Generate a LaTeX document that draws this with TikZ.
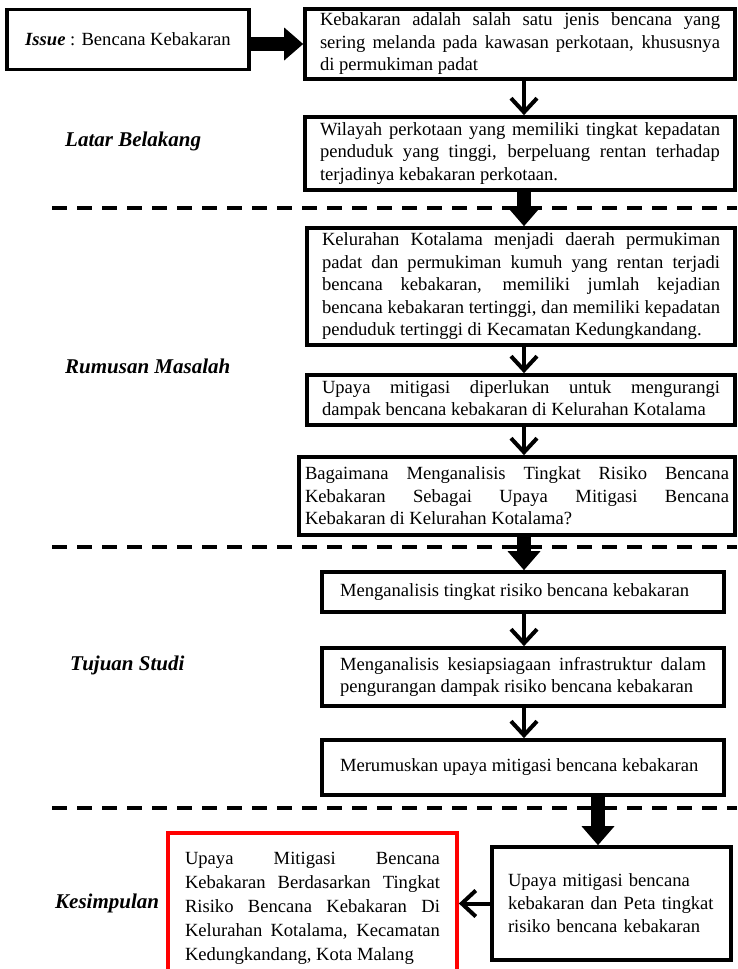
\documentclass[tikz,border=0pt]{standalone}
\usepackage{fontspec}
\setmainfont{Liberation Serif}
\usetikzlibrary{arrows.meta}
\setlength{\parindent}{0pt}
\hyphenpenalty=10000
\exhyphenpenalty=10000
\tolerance=10000
\hbadness=10000
\tikzset{
  box/.style={draw=black, line width=3.7pt, rectangle, inner ysep=0pt,
    font=\fontsize{18.6}{22.5}\selectfont, align=justify},
  lab/.style={font=\fontsize{21}{25}\selectfont\bfseries\itshape, anchor=west, inner sep=0pt},
  arrA/.style={line width=4pt, -{Straight Barb[length=14pt,width=26pt]}},
  arrB/.style={line width=14pt, -{Triangle[length=19pt,width=33pt,line width'=0pt]}},
  sepline/.style={line width=3.5pt, dash pattern=on 15pt off 10pt},
}
\begin{document}
\begin{tikzpicture}[x=1pt,y=-1pt]
\useasboundingbox (0,0) rectangle (737,969);
% separators
\coordinate (d1a) at (52,208); \coordinate (d1b) at (737,208);
\coordinate (d2a) at (52,547); \coordinate (d2b) at (737,547);
\coordinate (d3a) at (52,808); \coordinate (d3b) at (737,808);
\draw[sepline] (d1a) -- (d1b);
\draw[sepline] (d2a) -- (d2b);
\draw[sepline] (d3a) -- (d3b);
% boxes
\node[box, minimum width=242pt, minimum height=60pt, align=center] (iss) at (128,39.5)
  {\textbf{\textit{Issue}} : Bencana Kebakaran};
\node[box, text width=400pt, inner xsep=15pt, minimum height=70pt] (b1) at (520,44)
  {Kebakaran adalah salah satu jenis bencana yang\linebreak sering melanda pada kawasan perkotaan, khususnya\linebreak di permukiman padat};
\node[box, text width=400pt, inner xsep=15pt, minimum height=73pt] (b2) at (520,153.5)
  {Wilayah perkotaan yang memiliki tingkat kepadatan\linebreak penduduk yang tinggi, berpeluang rentan terhadap\linebreak terjadinya kebakaran perkotaan.};
\node[box, text width=398pt, inner xsep=15pt, minimum height=117pt] (b3) at (521,286.5)
  {Kelurahan Kotalama menjadi daerah permukiman\linebreak padat dan permukiman kumuh yang rentan terjadi\linebreak bencana kebakaran, memiliki jumlah kejadian\linebreak bencana kebakaran tertinggi, dan memiliki kepadatan\linebreak penduduk tertinggi di Kecamatan Kedungkandang.};
\node[box, text width=398pt, inner xsep=15pt, minimum height=50pt] (b4) at (521,400)
  {Upaya mitigasi diperlukan untuk mengurangi\linebreak dampak bencana kebakaran di Kelurahan Kotalama};
\node[box, text width=424pt, inner xsep=6pt, minimum height=78pt] (b5) at (517,496)
  {Bagaimana Menganalisis Tingkat Risiko Bencana\linebreak Kebakaran Sebagai Upaya Mitigasi Bencana\linebreak Kebakaran di Kelurahan Kotalama?};
\node[box, text width=366pt, inner xsep=18pt, minimum height=40pt] (b6) at (523,592)
  {Menganalisis tingkat risiko bencana kebakaran};
\node[box, text width=366pt, inner xsep=18pt, minimum height=58pt] (b7) at (523,677)
  {Menganalisis kesiapsiagaan infrastruktur dalam\linebreak pengurangan dampak risiko bencana kebakaran};
\node[box, text width=366pt, inner xsep=18pt, minimum height=55pt] (b8) at (523,767.5)
  {Merumuskan upaya mitigasi bencana kebakaran};
\node[box, text width=207pt, inner xsep=16pt, minimum height=113pt, align=left,
  font=\fontsize{18.6}{23}\selectfont] (b9) at (611.5,903.5)
  {Upaya mitigasi bencana\\kebakaran dan Peta tingkat\\risiko bencana kebakaran};
\node[box, draw=red, text width=255pt, inner xsep=17pt, minimum height=150pt,
  font=\fontsize{18.6}{24}\selectfont] (b10) at (312.5,908)
  {Upaya Mitigasi Bencana\linebreak Kebakaran Berdasarkan Tingkat\linebreak Risiko Bencana Kebakaran Di\linebreak Kelurahan Kotalama, Kecamatan\linebreak Kedungkandang, Kota Malang};
% labels
\node[lab] (l1) at (65,141) {Latar Belakang};
\node[lab] (l2) at (65,366) {Rumusan Masalah};
\node[lab] (l3) at (70,665) {Tujuan Studi};
\node[lab] (l4) at (55,903) {Kesimpulan};
% arrows
\coordinate (ax) at (524,0);
\coordinate (bx) at (598,0);
\draw[arrB] (iss.east |- b1.west) -- (b1.west);
\draw[arrA] (b1.south -| ax) -- (b2.north -| ax);
\draw[arrB] (b2.south -| ax) -- (b3.north -| ax);
\draw[arrA] (b3.south -| ax) -- (b4.north -| ax);
\draw[arrA] (b4.south -| ax) -- (b5.north -| ax);
\draw[arrB] (b5.south -| ax) -- (b6.north -| ax);
\draw[arrA] (b6.south -| ax) -- (b7.north -| ax);
\draw[arrA] (b7.south -| ax) -- (b8.north -| ax);
\draw[arrB] (b8.south -| bx) -- (b9.north -| bx);
\draw[arrA] (b9.west) -- (b9.west -| b10.east);
\end{tikzpicture}
\end{document}
